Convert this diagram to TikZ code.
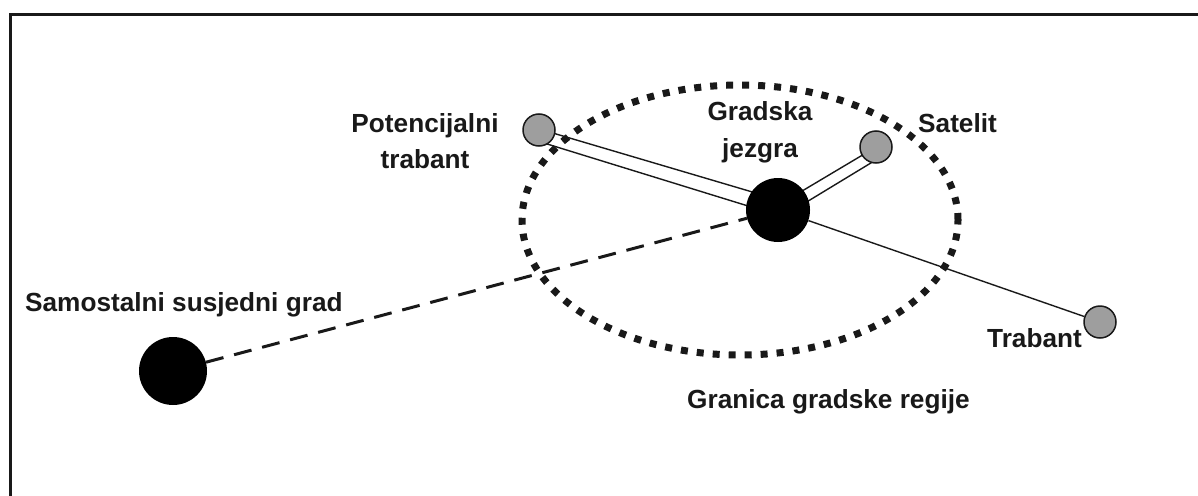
\documentclass[tikz,border=0pt]{standalone}
\usepackage{fontspec}
\setmainfont{Liberation Sans}
\usetikzlibrary{calc,backgrounds}
\definecolor{satgray}{RGB}{158,158,158}
\definecolor{ink}{RGB}{25,25,25}
\tikzset{
  lbl/.style={font=\bfseries\fontsize{26.2}{30}\selectfont, text=ink, inner sep=0pt, anchor=base west},
  lblc/.style={lbl, anchor=base},
  bigdot/.style={circle, fill=black, draw=none, inner sep=0pt, minimum size=#1},
  smalldot/.style={circle, fill=satgray, draw=ink, line width=1.5pt, inner sep=0pt, minimum size=32pt},
  link/.style={line width=1.4pt, draw=ink},
  bound/.style={line width=7pt, draw=ink, dash pattern=on 7pt off 9pt},
  dashlink/.style={line width=3pt, draw=ink, dash pattern=on 18pt off 11pt},
  frame/.style={line width=3pt, draw=ink}
}
\begin{document}
\begin{tikzpicture}[x=1pt,y=-1pt]
\useasboundingbox (0,0) rectangle (1198,495);

% places
\node[bigdot=64pt] (core) at (778,210) {};
\node[bigdot=68pt] (samo) at (173,371) {};
\node[smalldot] (pot) at (539,130) {};
\node[smalldot] (sat) at (876,147) {};
\node[smalldot] (trab) at (1100,322) {};

% connectors behind the places
\begin{scope}[on background layer]
  \fill[white] (0,0) rectangle (1198,495);
  \draw[frame] (10,15) rectangle (1240,540);
  \draw[dashlink] (samo) -- (core);
  \draw[link] (core) -- (trab);
  % tapered double link to the potential trabant
  \draw[link] ($(pot.center)!1pt!90:(core.center)$) -- ($(core.center)!10pt!-90:(pot.center)$);
  \draw[link] ($(pot.center)!11pt!-90:(core.center)$) -- ($(core.center)!5pt!90:(pot.center)$);
  % double link to the satellite
  \draw[link] (sat.center) -- ($(core.center)!4pt!90:(sat.center)$);
  \draw[link] ($(sat.center)!11pt!90:(core.center)$) -- ($(core.center)!8pt!-90:(sat.center)$);
  % city-region boundary
  \draw[bound] (740,220) ellipse [x radius=218pt, y radius=135pt];
\end{scope}

% labels
\node[lblc] (potA) at (425,132) {Potencijalni};
\node[lblc] (potB) at (425,168) {trabant};
\node[lblc] (coreA) at (760,120) {Gradska};
\node[lblc] (coreB) at (760,157) {jezgra};
\node[lbl] (satL) at (918,132) {Satelit};
\node[lbl] (trabL) at (987,347) {Trabant};
\node[lbl] (samoL) at (25,311) {Samostalni susjedni grad};
\node[lbl] (granL) at (687,408) {Granica gradske regije};
\end{tikzpicture}
\end{document}
